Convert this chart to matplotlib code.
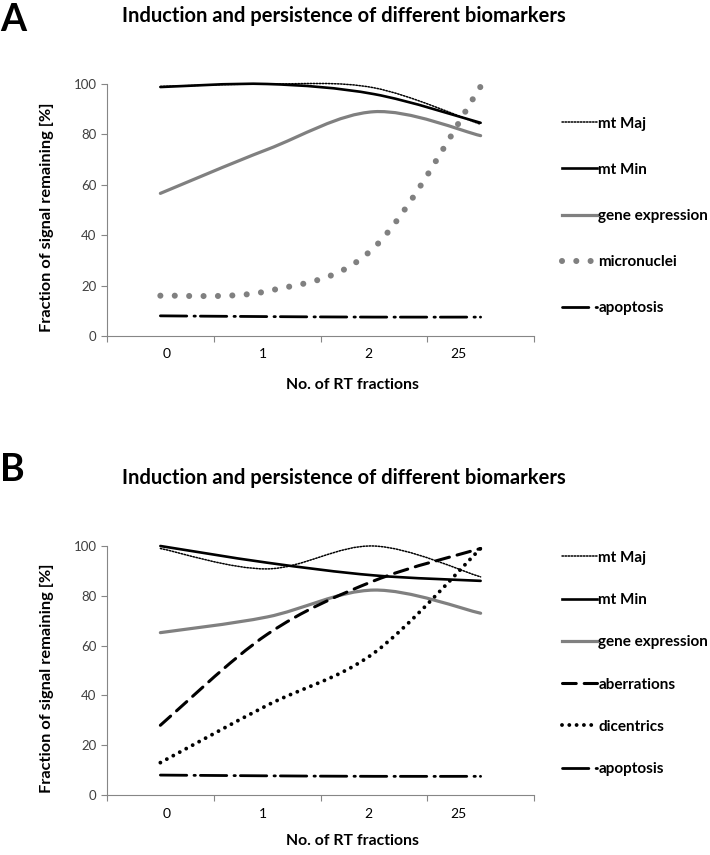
import numpy as np
import matplotlib
matplotlib.use("Agg")
import matplotlib.pyplot as plt
from matplotlib.path import Path
from matplotlib.patches import PathPatch
from matplotlib.lines import Line2D

plt.rcParams['font.family'] = ['Lato', 'DejaVu Sans']

# data
fractions = ['0', '1', '2', '25']

a_mt_maj = [99, 100, 98.5, 84]
a_mt_min = [98.8, 100, 96, 84.6]
a_gene = [56.6, 74, 89, 79.5]
a_micronuclei = [16, 17.8, 35, 99]
a_apoptosis = [8, 7.7, 7.5, 7.5]

b_mt_maj = [99, 90.8, 100, 87.6]
b_mt_min = [100, 93.3, 88.2, 86]
b_gene = [65.2, 71.5, 82.3, 73]
b_aberrations = [28, 64.5, 86, 99]
b_dicentrics = [13, 36, 57, 99]
b_apoptosis = [8, 7.7, 7.5, 7.5]

GRAY = '#808080'
DPI = 100

# where excel put the category labels (slightly off the category centres)
label_pos = [0.06, 0.96, 1.95, 2.79]

# line styles: label -> (color, lw, linestyle, dot spacing in px or None)
styles = {
    'mt Maj': ('black', 1.1, (0, (1, 1)), None),
    'mt Min': ('black', 1.9, '-', None),
    'gene expression': (GRAY, 2.3, '-', None),
    'micronuclei': (GRAY, 4.4, None, 14.3),
    'aberrations': ('black', 2.2, (0, (4.5, 2.6)), None),
    'dicentrics': ('black', 2.8, None, 7.3),
    'apoptosis': ('black', 2.0, (0, (9.5, 2.6, 0.5, 1.8)), None),
}


def smooth_path(ys):
    # excel style smoothed line -> cubic bezier through the points
    pts = np.column_stack([np.arange(len(ys)), ys]).astype(float)
    n = len(pts)
    verts = [pts[0]]
    codes = [Path.MOVETO]
    for i in range(n - 1):
        p0 = pts[max(i - 1, 0)]
        p1 = pts[i]
        p2 = pts[i + 1]
        p3 = pts[min(i + 2, n - 1)]
        verts += [p1 + (p2 - p0) / 6, p2 - (p3 - p1) / 6, p2]
        codes += [Path.CURVE4] * 3
    return Path(verts, codes)


def dot_style(ax, path, lw, spacing):
    # stretch the dot gap a little so a dot sits on both ends of the curve
    disp = path.transformed(ax.transData)
    length = 0.0
    t = np.linspace(0, 1, 200)
    for seg, code in disp.iter_bezier():
        p = seg.point_at_t(t)
        length += np.sum(np.hypot(*np.diff(p, axis=0).T))
    gap = length / max(round(length / spacing), 1) * 0.998
    return (0, (0.001, gap / (lw * DPI / 72)))


def panel(rect, series, letter, title_y, letter_y, leg_top, leg_space, xlab_y):
    ax = fig.add_axes(rect)
    ax.set_xlim(-0.5, len(fractions) - 0.5)
    ax.set_ylim(0, 100)
    handles = []
    for name, ys in series:
        c, lw, ls, spacing = styles[name]
        path = smooth_path(ys)
        hls = ls
        if spacing is not None:
            ls = dot_style(ax, path, lw, spacing)
            hls = (0, (0.001, spacing / (lw * DPI / 72)))
        pp = PathPatch(path, fill=False, edgecolor=c, lw=lw,
                       linestyle=ls, capstyle='round', clip_on=False)
        ax.add_patch(pp)
        handles.append(Line2D([], [], color=c, lw=lw, linestyle=hls,
                              dash_capstyle='round', label=name))
    ax.set_yticks(range(0, 101, 20))
    ax.set_xticks(np.arange(len(fractions) + 1) - 0.5)
    ax.set_xticklabels([])
    ax.set_xticks(label_pos, minor=True)
    ax.set_xticklabels(fractions, minor=True)
    ax.tick_params(axis='x', which='minor', length=0, pad=9)
    ax.tick_params(which='major', length=4, width=0.8, color='#868686')
    ax.tick_params(labelsize=9.5, labelcolor='#404040')
    for s in ['top', 'right']:
        ax.spines[s].set_visible(False)
    for s in ['left', 'bottom']:
        ax.spines[s].set_color('#868686')
        ax.spines[s].set_linewidth(0.8)
    ax.set_ylabel('Fraction of signal remaining [%]', fontsize=11.8,
                  fontweight='bold', va='center')
    ax.yaxis.set_label_coords((47 - 107) / 427, 0.47)
    ax.set_xlabel('No. of RT fractions', fontsize=11.3, fontweight='bold')
    ax.xaxis.set_label_coords((353 - 107) / 427, -xlab_y / rect[3] / 855)
    ax.xaxis.label.set_va('center')
    fig.text(344 / 710, 1 - title_y / 855,
             'Induction and persistence of different biomarkers',
             fontsize=14.5, fontweight='bold', ha='center', va='center')
    fig.text(0, 1 - letter_y / 855, letter, fontsize=27,
             fontweight='bold', ha='left', va='center')
    fig.legend(handles=handles, loc='upper left', frameon=False,
               bbox_to_anchor=(548 / 710, 1 - leg_top / 855),
               handlelength=2.3, handletextpad=0.1,
               labelspacing=leg_space, prop={'weight': 'bold', 'size': 11})
    return ax


fig = plt.figure(figsize=(7.1, 8.55), dpi=DPI)

panel([107 / 710, 1 - 336 / 855, 427 / 710, 252 / 855],
      [('mt Maj', a_mt_maj), ('mt Min', a_mt_min), ('gene expression', a_gene),
       ('micronuclei', a_micronuclei), ('apoptosis', a_apoptosis)],
      'A', 16, 20, 103, 2.1, 49)

panel([107 / 710, 1 - 795 / 855, 427 / 710, 249 / 855],
      [('mt Maj', b_mt_maj), ('mt Min', b_mt_min), ('gene expression', b_gene),
       ('aberrations', b_aberrations), ('dicentrics', b_dicentrics),
       ('apoptosis', b_apoptosis)],
      'B', 478, 470, 537, 1.85, 46)

fig.savefig('out.png', dpi=DPI)
